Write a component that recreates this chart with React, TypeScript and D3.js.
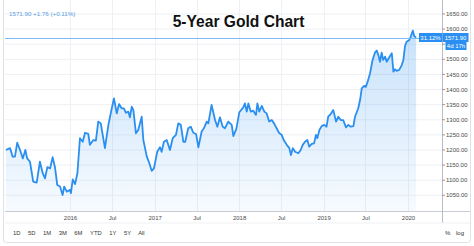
import React from 'react';
import * as d3 from 'd3';

const dates = [
  '2015-03-30','2015-04-17','2015-04-28','2015-05-08','2015-05-18','2015-05-30','2015-06-11','2015-06-22','2015-06-30','2015-07-12',
  '2015-07-26','2015-08-10','2015-08-24','2015-09-05','2015-09-15','2015-09-25','2015-10-07','2015-10-18','2015-10-28','2015-11-07',
  '2015-11-19','2015-11-30','2015-12-07','2015-12-18','2016-01-01','2016-01-05','2016-01-13','2016-01-23','2016-02-02','2016-02-13',
  '2016-02-25','2016-03-06','2016-03-20','2016-03-27','2016-04-11','2016-04-22','2016-05-02','2016-05-13','2016-05-31','2016-06-15',
  '2016-06-25','2016-07-09','2016-07-21','2016-07-31','2016-08-11','2016-08-21','2016-08-30','2016-09-09','2016-09-16','2016-09-24',
  '2016-10-01','2016-10-12','2016-10-22','2016-11-06','2016-11-13','2016-11-28','2016-12-09','2016-12-19','2016-12-29','2017-01-12',
  '2017-01-24','2017-01-31','2017-02-10','2017-02-22','2017-03-08','2017-03-20','2017-04-03','2017-04-13','2017-04-24','2017-05-05',
  '2017-05-13','2017-05-26','2017-06-06','2017-06-17','2017-06-29','2017-07-09','2017-07-23','2017-08-02','2017-08-14','2017-08-21',
  '2017-09-04','2017-09-19','2017-09-29','2017-10-10','2017-10-22','2017-11-01','2017-11-15','2017-11-30','2017-12-07','2017-12-20',
  '2018-01-02','2018-01-19','2018-01-26','2018-02-03','2018-02-10','2018-02-20','2018-03-03','2018-03-15','2018-03-21','2018-03-29',
  '2018-04-09','2018-04-20','2018-04-30','2018-05-11','2018-05-22','2018-06-01','2018-06-12','2018-06-24','2018-07-04','2018-07-14',
  '2018-07-26','2018-08-06','2018-08-13','2018-08-21','2018-08-31','2018-09-14','2018-09-24','2018-10-03','2018-10-13','2018-10-23',
  '2018-10-31','2018-11-11','2018-11-21','2018-11-29','2018-12-05','2018-12-14','2018-12-24','2019-01-04','2019-01-14','2019-01-21',
  '2019-02-01','2019-02-12','2019-02-24','2019-03-06','2019-03-16','2019-03-27','2019-04-08','2019-04-18','2019-04-28','2019-05-10',
  '2019-05-17','2019-05-31','2019-06-08','2019-06-15','2019-06-25','2019-07-03','2019-07-13','2019-07-21','2019-08-01','2019-08-11',
  '2019-08-19','2019-08-26','2019-09-02','2019-09-09','2019-09-16','2019-09-24','2019-10-01','2019-10-12','2019-10-23','2019-10-30',
  '2019-11-06','2019-11-13','2019-11-24','2019-12-05','2019-12-12','2019-12-19','2019-12-26','2020-01-07','2020-01-13','2020-01-22',
  '2020-01-28','2020-02-05',
];

const prices = [
  1200, 1206, 1178, 1178, 1224, 1200, 1172, 1200, 1172, 1161,
  1095, 1092, 1161, 1123, 1106, 1143, 1139, 1176, 1143, 1084,
  1079, 1051, 1079, 1062, 1068, 1057, 1103, 1087, 1123, 1239,
  1227, 1257, 1253, 1217, 1233, 1231, 1294, 1288, 1206, 1283,
  1321, 1371, 1321, 1352, 1338, 1338, 1323, 1327, 1308, 1343,
  1332, 1255, 1266, 1310, 1233, 1178, 1156, 1131, 1139, 1194,
  1209, 1194, 1227, 1233, 1200, 1239, 1250, 1288, 1283, 1227,
  1227, 1272, 1277, 1257, 1253, 1209, 1261, 1272, 1294, 1288,
  1349, 1299, 1277, 1308, 1277, 1272, 1294, 1283, 1246, 1270,
  1325, 1341, 1354, 1327, 1354, 1327, 1330, 1316, 1354, 1327,
  1346, 1327, 1321, 1294, 1299, 1288, 1272, 1255, 1250, 1231,
  1217, 1206, 1183, 1206, 1194, 1189, 1200, 1217, 1227, 1233,
  1211, 1220, 1222, 1250, 1239, 1266, 1279, 1283, 1277, 1310,
  1319, 1332, 1294, 1310, 1299, 1299, 1275, 1283, 1277, 1279,
  1310, 1338, 1366, 1404, 1412, 1409, 1432, 1454, 1498, 1522,
  1529, 1514, 1492, 1522, 1498, 1509, 1492, 1507, 1520, 1459,
  1467, 1462, 1465, 1481, 1498, 1544, 1558, 1564, 1575, 1595,
  1577, 1571.9,
];

const yTickValues = [1050, 1100, 1150, 1200, 1250, 1300, 1350, 1400, 1450, 1500, 1550, 1600, 1650];
const xTickDates = ['2016-01-01', '2016-07-01', '2017-01-01', '2017-07-01', '2018-01-01', '2018-07-01', '2019-01-01', '2019-07-01', '2020-01-01'];
const xTickLabels = ['2016', 'Jul', '2017', 'Jul', '2018', 'Jul', '2019', 'Jul', '2020'];
const rangeButtons = ['1D', '5D', '1M', '3M', '6M', 'YTD', '1Y', '5Y', 'All'];
const title = '5-Year Gold Chart';
const headerText = '1571.90 +1.76 (+0.11%)';
const lastPrice = 1571.9;
const pctLabel = '31.12%';
const priceLabel = '1571.90';
const countdownLabel = '4d 17h';

const W = 474;
const H = 246;
const LEFT = 5;
const AXIS_X = 442;
const BOTTOM = 211;
const BLUE = '#2a8ff0';
const FONT = '"Liberation Sans", Arial, sans-serif';

export default function App() {
  const parse = d3.timeParse('%Y-%m-%d');
  const data = dates.map((d, i) => ({ date: parse(d) as Date, value: prices[i] }));

  const x = d3.scaleTime()
    .domain([parse('2016-01-01') as Date, parse('2020-01-01') as Date])
    .range([70, 408]);
  const y = d3.scaleLinear().domain([1050, 1650]).range([195.3, 14]);

  const line = d3.line<{ date: Date; value: number }>()
    .x(d => x(d.date))
    .y(d => y(d.value));
  const area = d3.area<{ date: Date; value: number }>()
    .x(d => x(d.date))
    .y0(BOTTOM)
    .y1(d => y(d.value));

  const py = Math.round(y(lastPrice)) + 0.5;
  const boxTop = py - 5.5;
  const cdTop = py + 3.5;
  const cdBottom = cdTop + 8;
  // y labels hidden behind the price / countdown boxes (as in the original widget)
  const visibleTicks = yTickValues.filter(v => {
    const yy = y(v);
    return yy < boxTop - 3 || yy > cdBottom + 2.5;
  });

  return (
    <svg width={W} height={H} style={{ position: 'absolute', left: 0, top: 0, background: '#fff' }}>
      <defs>
        <linearGradient id="fillGrad" gradientUnits="userSpaceOnUse" x1="0" y1="30" x2="0" y2={BOTTOM}>
          <stop offset="0" stopColor={BLUE} stopOpacity={0.26} />
          <stop offset="1" stopColor={BLUE} stopOpacity={0.04} />
        </linearGradient>
        <clipPath id="plotClip">
          <rect x={LEFT} y={0} width={AXIS_X - LEFT} height={BOTTOM} />
        </clipPath>
      </defs>
      <rect x={0} y={0} width={W} height={H} fill="#fff" />
      {/* card */}
      <rect x={3.5} y={-6} width={467} height={248.5} rx={3} fill="#fff" stroke="#dfe2e8" strokeWidth={1} />

      {/* horizontal grid */}
      {yTickValues.map(v => (
        <line key={'hg' + v} x1={LEFT} x2={AXIS_X} y1={y(v)} y2={y(v)} stroke="#eef0f4" strokeWidth={1} />
      ))}
      {/* vertical grid */}
      {xTickDates.map((d, i) => {
        const xx = Math.round(x(parse(d) as Date)) + 0.5;
        return <line key={'vg' + i} x1={xx} x2={xx} y1={0} y2={BOTTOM} stroke="#eef0f4" strokeWidth={1} />;
      })}

      <g clipPath="url(#plotClip)">
        <path d={area(data) || ''} fill="url(#fillGrad)" />
        <path d={line(data) || ''} fill="none" stroke={BLUE} strokeWidth={1.8} strokeLinejoin="round" />
      </g>

      {/* last price line */}
      <line x1={LEFT} x2={AXIS_X} y1={py} y2={py} stroke="#7dbaf5" strokeWidth={1} />

      {/* title */}
      <text x={238.5} y={27.3} textAnchor="middle" fontFamily={FONT} fontWeight="bold" fontSize={15.6} fill="#111">{title}</text>

      {/* header */}
      <text x={9} y={16} fontFamily={FONT} fontSize={6.2} fill="#5b9de0">{headerText}</text>

      {/* axes lines */}
      <line x1={LEFT} x2={470} y1={BOTTOM + 0.5} y2={BOTTOM + 0.5} stroke="#c8ccd4" strokeWidth={1} />
      <line x1={AXIS_X + 0.5} x2={AXIS_X + 0.5} y1={0} y2={223} stroke="#b8bcc4" strokeWidth={1} />
      <line x1={LEFT} x2={470} y1={223} y2={223} stroke="#f0f1f4" strokeWidth={1} />

      {/* y labels */}
      {yTickValues.map(v => (
        <line key={'yt' + v} x1={AXIS_X} x2={AXIS_X + 3} y1={y(v)} y2={y(v)} stroke="#999" strokeWidth={1} />
      ))}
      {visibleTicks.map(v => (
        <text key={'yl' + v} x={446} y={y(v) + 2.1} fontFamily={FONT} fontSize={6} fill="#4a4a4a">{v.toFixed(2)}</text>
      ))}

      {/* x labels */}
      {xTickDates.map((d, i) => (
        <text key={'xl' + i} x={x(parse(d) as Date) + 0.5} y={219.5} textAnchor="middle" fontFamily={FONT} fontSize={6} fill="#4a4a4a">{xTickLabels[i]}</text>
      ))}

      {/* price labels */}
      <rect x={419} y={boxTop} width={23} height={9} fill={BLUE} />
      <text x={430.5} y={py + 1.8} textAnchor="middle" fontFamily={FONT} fontSize={6} fill="#fff">{pctLabel}</text>
      <rect x={442.5} y={boxTop} width={26} height={9} fill={BLUE} />
      <text x={455.5} y={py + 1.8} textAnchor="middle" fontFamily={FONT} fontSize={6} fill="#fff">{priceLabel}</text>
      <rect x={445.5} y={cdTop} width={21} height={8} fill={BLUE} />
      <text x={456} y={cdTop + 6} textAnchor="middle" fontFamily={FONT} fontSize={6} fill="#fff">{countdownLabel}</text>

      {/* range buttons */}
      <text x={13} y={235} fontFamily={FONT} fontSize={5.8} fill="#333">
        {rangeButtons.map((b, i) => (
          <tspan key={b} dx={i === 0 ? 0 : 7.6}>{b}</tspan>
        ))}
      </text>
      <text x={445} y={235} fontFamily={FONT} fontSize={6} fill="#333">%</text>
      <text x={456} y={235} fontFamily={FONT} fontSize={6} fill="#333">log</text>
    </svg>
  );
}
